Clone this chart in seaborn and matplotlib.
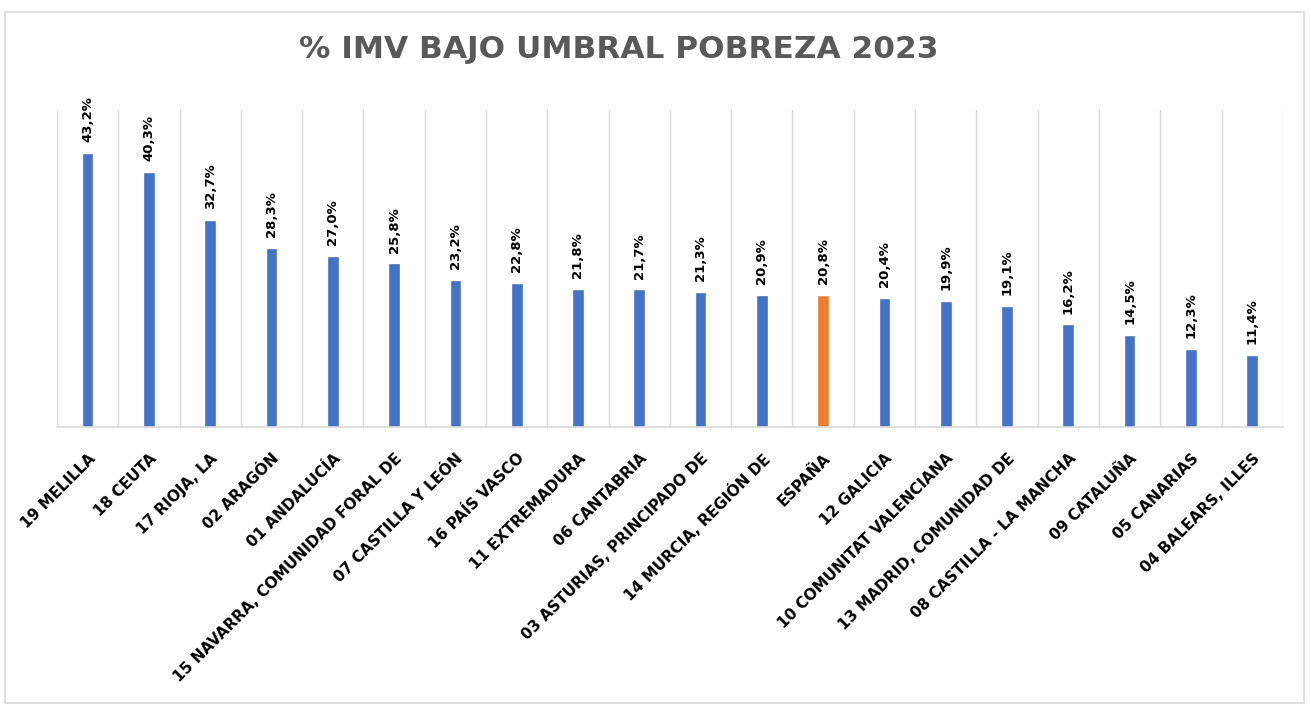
import matplotlib
matplotlib.use("Agg")
import matplotlib.pyplot as plt
import seaborn as sns
from matplotlib.patches import Rectangle

regiones = [
    "19 MELILLA", "18 CEUTA", "17 RIOJA, LA", "02 ARAGÓN", "01 ANDALUCÍA",
    "15 NAVARRA, COMUNIDAD FORAL DE", "07 CASTILLA Y LEÓN", "16 PAÍS VASCO",
    "11 EXTREMADURA", "06 CANTABRIA", "03 ASTURIAS, PRINCIPADO DE",
    "14 MURCIA, REGIÓN DE", "ESPAÑA", "12 GALICIA", "10 COMUNITAT VALENCIANA",
    "13 MADRID, COMUNIDAD DE", "08 CASTILLA - LA MANCHA", "09 CATALUÑA",
    "05 CANARIAS", "04 BALEARS, ILLES",
]
porcentajes = [43.2, 40.3, 32.7, 28.3, 27.0, 25.8, 23.2, 22.8, 21.8, 21.7,
               21.3, 20.9, 20.8, 20.4, 19.9, 19.1, 16.2, 14.5, 12.3, 11.4]

AZUL = "#4472C4"
NARANJA = "#ED7D31"
colores = [NARANJA if r == "ESPAÑA" else AZUL for r in regiones]

sns.set_style("white")
plt.rcParams["font.family"] = ["DejaVu Sans"]

fig = plt.figure(figsize=(13.11, 7.09), dpi=100)
ax = fig.add_axes([0.0435, 0.3977, 0.935, 0.447])

sns.barplot(x=regiones, y=porcentajes, hue=regiones, palette=colores,
            legend=False, width=0.19, ax=ax, saturation=1)

ax.set_ylim(0, 50)
ax.set_xlim(-0.5, len(regiones) - 0.5)
ax.set_yticks([])
ax.set_xlabel("")
ax.set_ylabel("")

# separadores verticales entre categorías
for i in range(len(regiones) + 1):
    ax.axvline(i - 0.5, color="#d9d9d9", lw=1, zorder=0)

for s in ["top", "left", "right"]:
    ax.spines[s].set_visible(False)
ax.spines["bottom"].set_color("#d9d9d9")
ax.spines["bottom"].set_linewidth(1.2)

for i, v in enumerate(porcentajes):
    ax.text(i, v + 1.7, f"{v:.1f}%".replace(".", ","), rotation=90,
            ha="center", va="bottom", fontsize=9.5, fontweight="bold",
            color="black")

ax.set_xticks(range(len(regiones)))
ax.set_xticklabels(regiones, rotation=45, ha="right", rotation_mode="anchor",
                   fontsize=11, fontweight="bold", color="black")
ax.tick_params(axis="x", length=0, pad=17)

fig.text(0.472, 0.93, "% IMV BAJO UMBRAL POBREZA 2023", ha="center",
         va="center", fontsize=22.5, fontweight="bold", color="#595959")

fig.patches.append(Rectangle((0.004, 0.008), 0.991, 0.975,
                             transform=fig.transFigure, fill=False,
                             edgecolor="#d9d9d9", lw=1.2))

fig.savefig("out.png", dpi=100)
